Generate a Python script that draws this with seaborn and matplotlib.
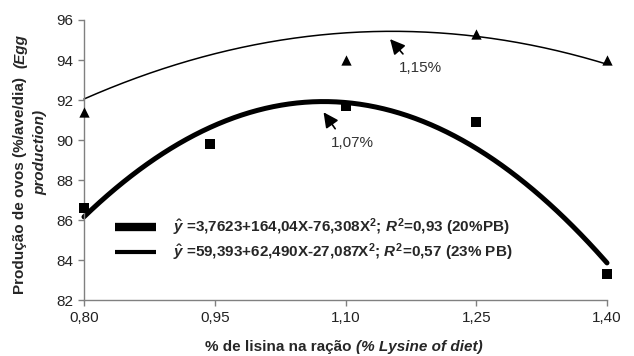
import numpy as np
import pandas as pd
import seaborn as sns
import matplotlib.pyplot as plt

# niveles de lisina (%) y producción observada
lys_20 = [0.80, 0.945, 1.10, 1.25, 1.40]
prod_20 = [86.6, 89.8, 91.7, 90.9, 83.3]
lys_23 = [0.80, 1.10, 1.25, 1.40]
prod_23 = [91.4, 94.0, 95.3, 94.0]

# coeficientes de las ecuaciones (a, b, c): y = a + bX + cX^2
coef_20 = [3.7623, 164.04, -76.308]
coef_23 = [59.393, 62.490, -27.087]

xticks = [0.80, 0.95, 1.10, 1.25, 1.40]
xtick_labels = ["0,80", "0,95", "1,10", "1,25", "1,40"]
yticks = [82, 84, 86, 88, 90, 92, 94, 96]

label_20 = r"$\hat{y}$ =3,7623+164,04X-76,308X$^{2}$; $R^{2}$=0,93 (20%PB)"
label_23 = r"$\hat{y}$ =59,393+62,490X-27,087X$^{2}$; $R^{2}$=0,57 (23% PB)"

sns.set_style("ticks")
plt.rcParams["font.family"] = ["Liberation Sans", "DejaVu Sans"]
plt.rcParams["mathtext.fontset"] = "custom"
plt.rcParams["mathtext.rm"] = "Liberation Sans:bold"
plt.rcParams["mathtext.it"] = "Liberation Sans:bold:italic"
plt.rcParams["mathtext.bf"] = "Liberation Sans:bold"

FS = 11

# curvas ajustadas a partir de las ecuaciones del gráfico
xs = np.linspace(0.80, 1.40, 200)
curves = pd.DataFrame({
    "x": xs,
    "y20": np.polyval(coef_20[::-1], xs),
    "y23": np.polyval(coef_23[::-1], xs),
})
pts20 = pd.DataFrame({"x": lys_20, "y": prod_20})
pts23 = pd.DataFrame({"x": lys_23, "y": prod_23})

fig = plt.figure(figsize=(6.34, 3.56), dpi=100)
ax = fig.add_axes([84 / 634, 56 / 356, 523 / 634, 280 / 356])

sns.lineplot(data=curves, x="x", y="y20", color="black", lw=3.6, ax=ax, label=label_20)
sns.lineplot(data=curves, x="x", y="y23", color="black", lw=1.1, ax=ax, label=label_23)
sns.scatterplot(data=pts20, x="x", y="y", marker="s", s=45, color="black",
                edgecolor="black", linewidth=0, ax=ax, zorder=5)
sns.scatterplot(data=pts23, x="x", y="y", marker="^", s=55, color="black",
                edgecolor="black", linewidth=0, ax=ax, zorder=5)
for coll in ax.collections:
    coll.set_clip_on(False)
for ln in ax.lines:
    ln.set_clip_on(False)

# flechas de los máximos
arrow = dict(arrowstyle="-|>,head_length=0.9,head_width=0.45", color="black", lw=1.2)
ax.annotate("", xy=(1.149, 95.15), xytext=(1.168, 94.2), arrowprops=arrow)
ax.text(1.186, 93.6, "1,15%", ha="center", va="center", fontsize=FS, color="#333333")
ax.annotate("", xy=(1.073, 91.5), xytext=(1.090, 90.45), arrowprops=arrow)
ax.text(1.108, 89.85, "1,07%", ha="center", va="center", fontsize=FS, color="#333333")

ax.set_xlim(0.80, 1.40)
ax.set_ylim(82, 96)
ax.set_xticks(xticks)
ax.set_xticklabels(xtick_labels)
ax.set_yticks(yticks)
ax.tick_params(axis="both", direction="out", length=4, width=1, color="#808080",
               labelsize=FS, pad=4, labelcolor="#222222")
for side in ["left", "bottom"]:
    ax.spines[side].set_color("#808080")
    ax.spines[side].set_linewidth(1)
sns.despine(ax=ax)
ax.set_xlabel("")
ax.set_ylabel("")

leg = ax.legend(loc="center left", bbox_to_anchor=(0.045, 0.215), frameon=False,
                fontsize=FS, handlelength=2.7, handletextpad=1.1, labelspacing=0.2,
                borderpad=0)
for t in leg.get_texts():
    t.set_fontweight("bold")
for ln, w in zip(leg.get_lines(), [6, 3]):
    ln.set_linewidth(w)
    ln.set_solid_capstyle("butt")

# títulos de ejes con partes en cursiva
fig.text(356 / 634, 1 - 347 / 356, "% de lisina na ração ", ha="right", va="center",
         fontsize=FS, fontweight="bold")
fig.text(356 / 634, 1 - 347 / 356, "(% Lysine of diet)", ha="left", va="center",
         fontsize=FS, fontweight="bold", fontstyle="italic")
fig.text(20 / 634, 1 - 68 / 356, "Produção de ovos (%/ave/dia)  ", rotation=90,
         rotation_mode="anchor", ha="right", va="center", fontsize=FS, fontweight="bold")
fig.text(20 / 634, 1 - 68 / 356, "(Egg", rotation=90, rotation_mode="anchor",
         ha="left", va="center", fontsize=FS, fontweight="bold", fontstyle="italic")
fig.text(40 / 634, 1 - 152 / 356, "production)", rotation=90, ha="center", va="center",
         fontsize=FS, fontweight="bold", fontstyle="italic")

fig.savefig("out.png", dpi=100)
